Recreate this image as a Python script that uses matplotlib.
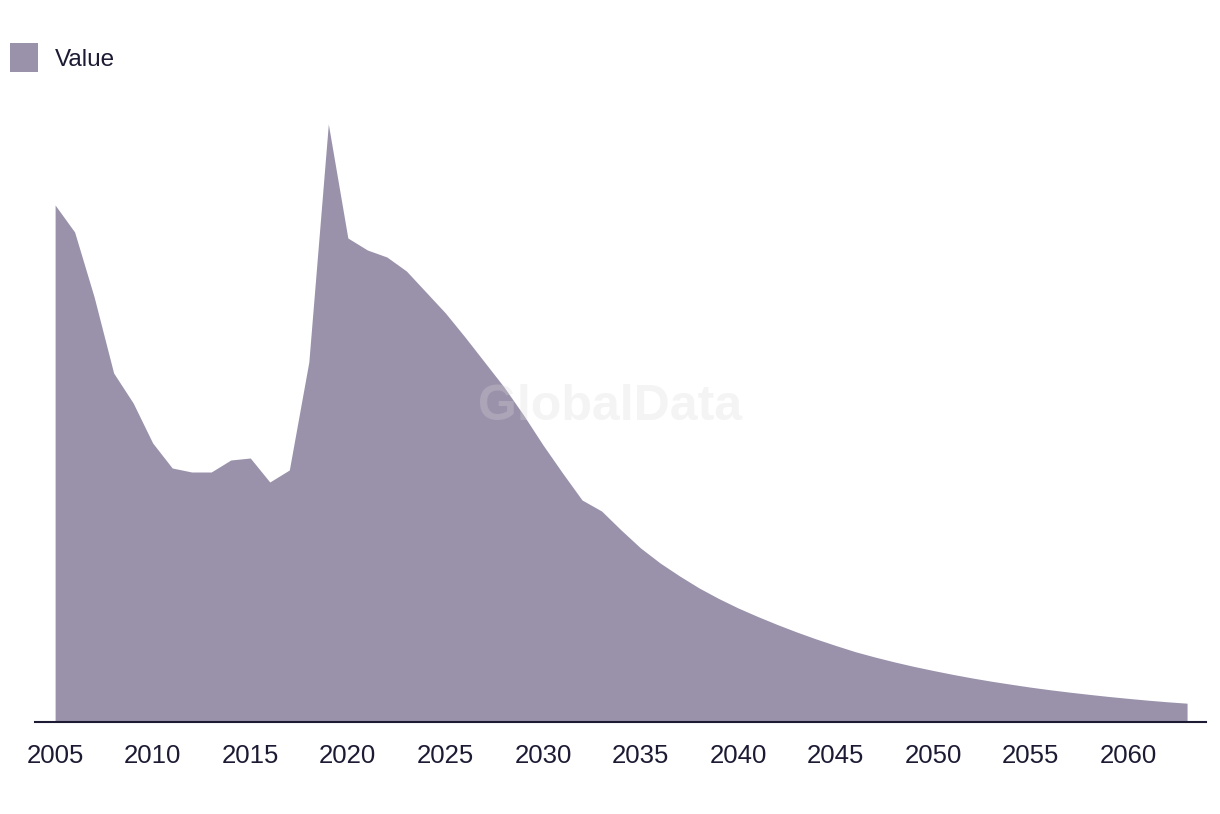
import matplotlib
matplotlib.use("Agg")
import matplotlib.pyplot as plt
from matplotlib.patches import Patch

years = list(range(2005, 2064))
values = [517, 490, 425, 349, 319, 279, 254, 250, 250, 262,
          264, 240, 252, 360, 598, 484, 472, 465, 451, 430,
          409, 385, 360, 335, 307, 277, 249, 222, 211, 192,
          174, 159, 146, 134, 123.5, 114, 105.5, 97.5, 90, 83,
          76.5, 70.3, 65.0, 60.1, 55.6, 51.5, 47.6, 44.0, 40.7, 37.7,
          34.8, 32.2, 29.8, 27.6, 25.5, 23.6, 21.8, 20.2, 18.8]
tick_years = list(range(2005, 2061, 5))
series_name = "Value"

fill_color = "#9a92ab"
text_color = "#1c1b33"

plt.rcParams['font.family'] = ['Liberation Sans', 'DejaVu Sans']

W, H = 1220, 814
fig = plt.figure(figsize=(W / 100, H / 100), dpi=100)
ax = fig.add_axes([35 / W, (H - 722) / H, (1206 - 35) / W, (722 - 100) / H])

ax.fill_between(years, values, 0, color=fill_color, linewidth=0, zorder=2)

ax.set_xlim(2003.97, 2063.97)
ax.set_ylim(0, 622)
ax.set_xticks(tick_years)
ax.set_xticklabels([str(y) for y in tick_years])
ax.set_yticks([])
ax.tick_params(axis='x', length=0, pad=15.5, labelsize=18.5, labelcolor=text_color)

for s in ['top', 'right', 'left']:
    ax.spines[s].set_visible(False)
ax.spines['bottom'].set_color(text_color)
ax.spines['bottom'].set_linewidth(1.5)
ax.spines['bottom'].set_zorder(3)

# watermark
ax.text(0.5, 0.5, "GlobalData", transform=fig.transFigure,
        fontsize=36, fontweight='bold', color='#d8d8d8', alpha=0.28,
        ha='center', va='center', zorder=4)

# legend
handles = [Patch(facecolor=fill_color, edgecolor='none', label=series_name)]
fig.legend(handles=handles, loc='upper left', bbox_to_anchor=(0.0, 1 - 33 / H),
           frameon=False, fontsize=17.5, handlelength=1.15, handleheight=1.5,
           handletextpad=0.7, borderaxespad=0, borderpad=0.4,
           labelcolor=text_color)

fig.savefig("out.png", dpi=100)
